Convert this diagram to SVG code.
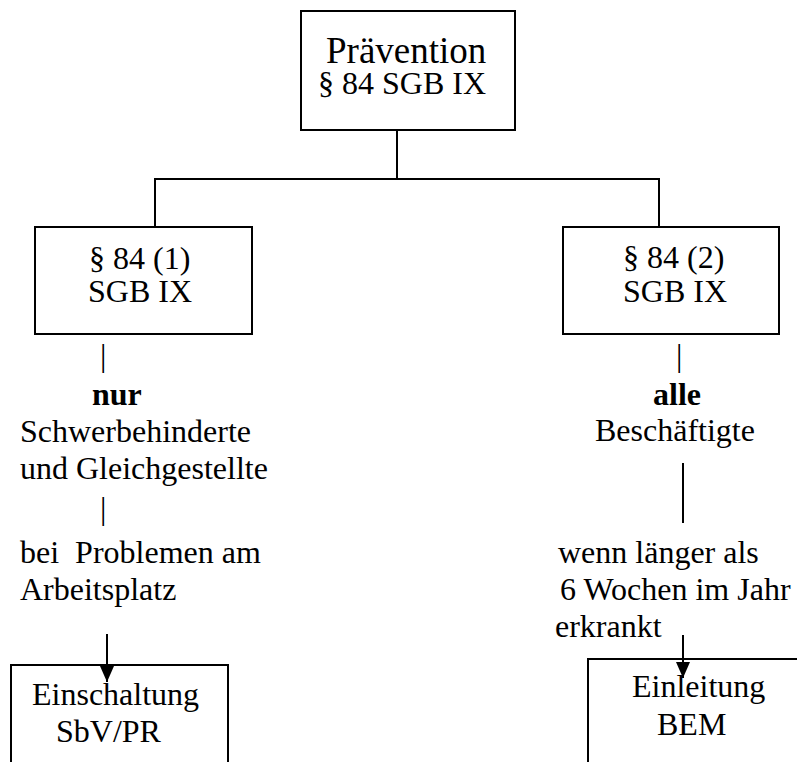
<svg xmlns="http://www.w3.org/2000/svg" width="797" height="762" viewBox="0 0 797 762">
<style>
  text { font-family: "Liberation Serif", "Times New Roman", serif; font-size: 32px; fill: #000; white-space: pre; }
  .big { font-size: 37px; }
  .b { font-weight: bold; }
  .box { fill: #fff; stroke: #000; stroke-width: 2; }
  .ln { stroke: #000; stroke-width: 2; fill: none; }
</style>
<defs>
  <marker id="ah" markerWidth="16" markerHeight="14" refX="16" refY="7" orient="auto" markerUnits="userSpaceOnUse" viewBox="0 0 16 14">
    <path d="M0,0 L16,7 L0,14 Z" fill="#000"/>
  </marker>
</defs>
<rect width="797" height="762" fill="#fff"/>

<g id="node-praevention">
  <rect class="box" x="301" y="11" width="214" height="119"/>
  <text class="big" x="326" y="63">Prävention</text>
  <text x="318" y="94">§ 84 SGB IX</text>
</g>

<g id="node-84-1">
  <rect class="box" x="35" y="227" width="217" height="107"/>
  <text x="89" y="269">§ 84 (1)</text>
  <text x="88" y="302">SGB IX</text>
</g>

<g id="node-84-2">
  <rect class="box" x="563" y="227" width="216" height="107"/>
  <text x="623" y="268">§ 84 (2)</text>
  <text x="623" y="302">SGB IX</text>
</g>

<g id="text-left">
  <text x="100" y="366">|</text>
  <text class="b" x="92" y="405">nur</text>
  <text x="20" y="442">Schwerbehinderte</text>
  <text x="20" y="479">und Gleichgestellte</text>
  <text x="100" y="519">|</text>
  <text x="20" y="563">bei  Problemen am</text>
  <text x="20" y="600">Arbeitsplatz</text>
</g>

<g id="text-right">
  <text x="676" y="366">|</text>
  <text class="b" x="653" y="405">alle</text>
  <text x="595" y="441">Beschäftigte</text>
  <text x="558" y="563">wenn länger als</text>
  <text x="560" y="600">6 Wochen im Jahr</text>
  <text x="555" y="637">erkrankt</text>
</g>

<g id="node-einschaltung">
  <rect class="box" x="11" y="665" width="217" height="110"/>
  <text x="32" y="705">Einschaltung</text>
  <text x="56" y="742">SbV/PR</text>
</g>

<g id="node-einleitung">
  <rect class="box" x="588" y="659" width="220" height="120"/>
  <text x="632" y="697">Einleitung</text>
  <text x="657" y="735">BEM</text>
</g>

<g id="connectors">
  <path class="ln" d="M397,130 V179 M155,227 V179 H659 V227"/>
  <line class="ln" x1="683" y1="463" x2="683" y2="523"/>
  <line class="ln" x1="107" y1="634" x2="107" y2="682" marker-end="url(#ah)"/>
  <line class="ln" x1="683" y1="635" x2="683" y2="678" marker-end="url(#ah)"/>
</g>
</svg>
